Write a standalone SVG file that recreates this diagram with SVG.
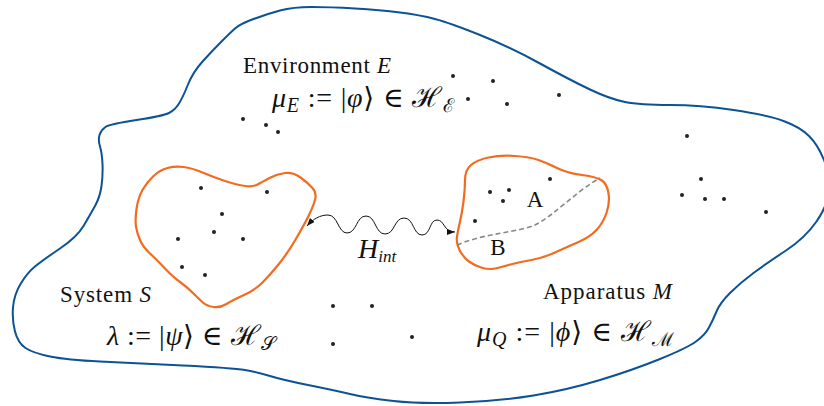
<svg xmlns="http://www.w3.org/2000/svg" width="824" height="406" viewBox="0 0 824 406">
<style>
.outer{fill:none;stroke:#0b5394;stroke-width:2;stroke-linejoin:round}
.blob{fill:none;stroke:#f26b1f;stroke-width:2.2;stroke-linejoin:round}
.dot{fill:#222}
.lbl{font-family:"Liberation Serif","DejaVu Serif",serif;font-size:23px;fill:#111}
.math{font-family:"Liberation Serif","DejaVu Serif",serif;font-size:28px;fill:#111}
.it{font-style:italic}
.wave{fill:none;stroke:#111;stroke-width:1}
.dash{fill:none;stroke:#888;stroke-width:1.6;stroke-dasharray:5 3}
</style>
<defs>
<marker id="ah" viewBox="0 0 8 6" refX="8" refY="3" markerWidth="8" markerHeight="6" markerUnits="userSpaceOnUse" orient="auto-start-reverse">
<path d="M0,0 L8,3 L0,6 z" fill="#111"/>
</marker>
</defs>

<g id="environment">
<path class="outer" d="M235,28.5 Q240,24 253.5,19 Q267,14 280,10.5 Q293,7 311.5,7 Q330,7 355,8.5 Q380,10 400,12.5 Q420,15 435,19 Q450,23 480,35 Q510,47 540,63.5 Q570,80 590,89.5 Q610,99 625,102 Q640,105 670,105 Q700,105 733.5,110 Q767,115 783.5,121 Q800,127 809,136 Q818,145 824,160 Q830,175 829,190 Q828,205 816.5,221.5 Q805,238 786,250.5 Q767,263 753.5,273 Q740,283 730,293 Q720,303 716.5,311.5 Q713,320 709,327.5 Q705,335 696,341.5 Q687,348 660,359 Q633,370 600,380 Q567,390 533.5,395.5 Q500,401 460,402.5 Q420,404 393.5,401 Q367,398 350,394 Q333,390 308,385 Q283,380 270,376 Q257,372 245,370 Q233,368 183,365.5 Q133,363 100,361.5 Q67,360 50,356.5 Q33,353 25.5,348 Q18,343 15,331.5 Q12,320 13,307.5 Q14,295 20.5,284 Q27,273 35,266.5 Q43,260 60,248.5 Q77,237 83.5,226 Q90,215 95,206 Q100,197 101.5,186 Q103,175 102.5,164 Q102,153 100,146.5 Q98,140 99.5,135 Q101,130 105.5,127 Q110,124 136.5,120 Q163,116 169,113 Q175,110 179,103.5 Q183,97 188,84.5 Q193,72 203,61 Q213,50 221.5,41.5 Q230,33 235,28.5 Z"/>
<text class="lbl" x="243" y="73" textLength="148">Environment <tspan class="it">E</tspan></text>
<text class="math" x="272" y="107" textLength="182"><tspan class="it">μ</tspan><tspan class="it" font-size="20" dy="5">E</tspan><tspan dy="-5"> := |</tspan><tspan class="it">φ</tspan><tspan>⟩ ∈ ℋ</tspan><tspan font-size="19" dy="5">ℰ</tspan></text>
<circle class="dot" cx="243" cy="119" r="2"/>
<circle class="dot" cx="266" cy="125" r="2"/>
<circle class="dot" cx="278" cy="132" r="2"/>
<circle class="dot" cx="453" cy="76" r="2"/>
<circle class="dot" cx="493" cy="81" r="2"/>
<circle class="dot" cx="468" cy="99" r="2"/>
<circle class="dot" cx="507" cy="104" r="2"/>
<circle class="dot" cx="559" cy="95" r="2"/>
<circle class="dot" cx="687" cy="136" r="2"/>
<circle class="dot" cx="701" cy="179" r="2"/>
<circle class="dot" cx="682" cy="195" r="2"/>
<circle class="dot" cx="705" cy="199" r="2"/>
<circle class="dot" cx="724" cy="199" r="2"/>
<circle class="dot" cx="766" cy="212" r="2"/>
<circle class="dot" cx="333" cy="306" r="2"/>
<circle class="dot" cx="372" cy="306" r="2"/>
<circle class="dot" cx="333" cy="344" r="2"/>
<circle class="dot" cx="412" cy="337" r="2"/>
</g>

<g id="system">
<path class="blob" d="M142.5,190 Q147,182 153.5,176 Q160,170 167.5,168 Q175,166 183.5,167 Q192,168 202.5,172.5 Q213,177 225,181 Q237,185 245,186 Q253,187 257.5,184.5 Q262,182 269.5,178 Q277,174 285,173 Q293,172 300.5,177.5 Q308,183 312.5,188 Q317,193 315,200 Q313,207 308,217 Q303,227 295,240.5 Q287,254 278.5,264.5 Q270,275 262.5,282.5 Q255,290 244,295 Q233,300 226.5,304 Q220,308 213.5,307 Q207,306 203.5,303 Q200,300 193.5,293.5 Q187,287 180,282 Q173,277 165,268.5 Q157,260 150,253.5 Q143,247 140,240 Q137,233 136,226.5 Q135,220 136.5,209 Q138,198 142.5,190 Z"/>
<circle class="dot" cx="201" cy="188" r="2"/>
<circle class="dot" cx="267" cy="192" r="2"/>
<circle class="dot" cx="222" cy="214" r="2"/>
<circle class="dot" cx="214" cy="232" r="2"/>
<circle class="dot" cx="178" cy="239" r="2"/>
<circle class="dot" cx="243" cy="239" r="2"/>
<circle class="dot" cx="182" cy="267" r="2"/>
<circle class="dot" cx="205" cy="275" r="2"/>
<text class="lbl" x="60" y="302" textLength="91">System <tspan class="it">S</tspan></text>
<text class="math" x="107" y="345" textLength="169"><tspan class="it">λ</tspan><tspan> := |</tspan><tspan class="it">ψ</tspan><tspan>⟩ ∈ ℋ</tspan><tspan font-size="19" dy="5">𝒮</tspan></text>
</g>

<g id="apparatus">
<path class="blob" d="M465,180 Q465,170 471,165 Q477,160 488.5,157.5 Q500,155 515,156 Q530,157 538.5,160 Q547,163 557,168 Q567,173 582,175 Q597,177 602,180.5 Q607,184 608.5,193.5 Q610,203 606.5,213 Q603,223 596.5,230 Q590,237 578.5,242 Q567,247 555,252.5 Q543,258 531.5,260 Q520,262 512.5,264 Q505,266 497.5,268 Q490,270 482.5,268 Q475,266 469,261.5 Q463,257 459.5,250 Q456,243 457,236.5 Q458,230 460,221.5 Q462,213 463.5,201.5 Q465,190 465,180 Z"/>
<path class="dash" d="M457,245 C485,233 520,232 535,225 C555,215 575,192 600,178"/>
<circle class="dot" cx="490" cy="192" r="2"/>
<circle class="dot" cx="509" cy="190" r="2"/>
<circle class="dot" cx="503" cy="201" r="2"/>
<circle class="dot" cx="550" cy="179" r="2"/>
<circle class="dot" cx="475" cy="221" r="2"/>
<text class="lbl" x="535" y="207" text-anchor="middle">A</text>
<text class="lbl" x="498" y="255" text-anchor="middle">B</text>
<text class="lbl" x="543" y="299" textLength="129">Apparatus <tspan class="it">M</tspan></text>
<text class="math" x="477" y="341" textLength="197"><tspan class="it">μ</tspan><tspan class="it" font-size="20" dy="5">Q</tspan><tspan dy="-5"> := |</tspan><tspan class="it">ϕ</tspan><tspan>⟩ ∈ ℋ</tspan><tspan font-size="19" dy="5">ℳ</tspan></text>
</g>

<g id="connectors">
<path class="wave" marker-start="url(#ah)" marker-end="url(#ah)" d="M307,226 C313,219 320,215 328,215 C338,215 338,233 347,233 C357,233 356,216 366,216 C376,216 375,234 385,234 C395,234 394,218 404,218 C414,218 413,235 422,235 C431,235 429,220 437,220 C445,220 443,232 455,232"/>
<text class="math" x="358" y="258" font-size="24"><tspan class="it">H</tspan><tspan class="it" font-size="17" dy="4">int</tspan></text>
</g>
</svg>
